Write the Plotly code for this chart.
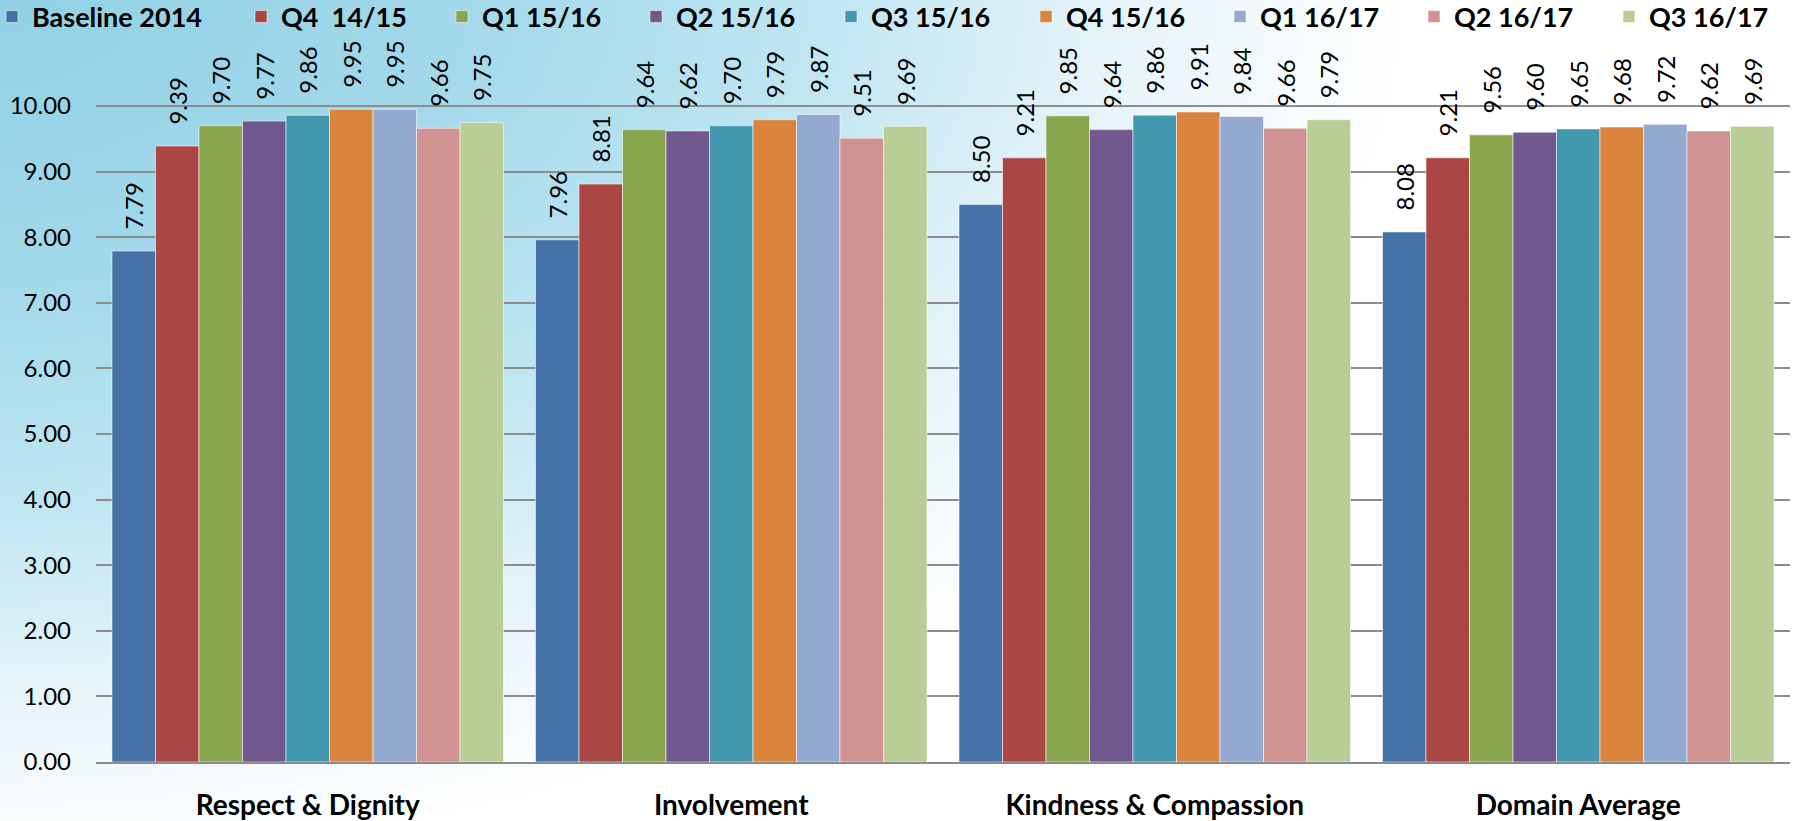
import base64
import plotly.graph_objects as go

# ---------------- data ----------------
categories = ["Respect & Dignity", "Involvement", "Kindness & Compassion", "Domain Average"]
series_names = ["Baseline 2014", "Q4  14/15", "Q1 15/16", "Q2 15/16", "Q3 15/16",
                "Q4 15/16", "Q1 16/17", "Q2 16/17", "Q3 16/17"]
baseline_2014 = [7.79, 7.96, 8.50, 8.08]
q4_1415 = [9.39, 8.81, 9.21, 9.21]
q1_1516 = [9.70, 9.64, 9.85, 9.56]
q2_1516 = [9.77, 9.62, 9.64, 9.60]
q3_1516 = [9.86, 9.70, 9.86, 9.65]
q4_1516 = [9.95, 9.79, 9.91, 9.68]
q1_1617 = [9.95, 9.87, 9.84, 9.72]
q2_1617 = [9.66, 9.51, 9.66, 9.62]
q3_1617 = [9.75, 9.69, 9.79, 9.69]
series_values = [baseline_2014, q4_1415, q1_1516, q2_1516, q3_1516,
                 q4_1516, q1_1617, q2_1617, q3_1617]
y_tick_values = [0, 1, 2, 3, 4, 5, 6, 7, 8, 9, 10]

# ---------------- style ----------------
colors = ["#4572a7", "#aa4643", "#89a54e", "#71588f", "#4198af",
          "#db843d", "#93a9cf", "#d19392", "#b9cd96"]
# left edge (px) of each legend square in the reference
legend_square_px = [19, 268, 469, 663, 858, 1053, 1247, 1441, 1636]

W, H = 1796, 821
L, R, T, B = 96, 6, 50, 59
PW, PH = W - L - R, H - T - B
FONT = "Lato"


def px_to_paper_x(px):
    return (px - L) / PW


def px_to_paper_y(py):
    return 1 - (py - T) / PH


# soft blue background as an inline SVG
svg = f'''<svg xmlns="http://www.w3.org/2000/svg" width="{W}" height="{H}" viewBox="0 0 {W} {H}" preserveAspectRatio="none">
<defs>
<radialGradient id="g" gradientUnits="userSpaceOnUse" cx="0" cy="0" r="1"
 gradientTransform="translate(-40,-30) scale(1450,900)">
<stop offset="0" stop-color="#8fd0e4"/>
<stop offset="0.35" stop-color="#a2d9ea"/>
<stop offset="0.6" stop-color="#c0e6f2"/>
<stop offset="0.8" stop-color="#e6f4fa"/>
<stop offset="1" stop-color="#ffffff"/>
</radialGradient>
</defs>
<rect x="0" y="0" width="{W}" height="{H}" fill="#ffffff"/>
<rect x="0" y="0" width="{W}" height="{H}" fill="url(#g)"/>
</svg>'''
svg_uri = "data:image/svg+xml;base64," + base64.b64encode(svg.encode()).decode()

fig = go.Figure()
for i, (name, vals) in enumerate(zip(series_names, series_values)):
    lg = "legend" if i == 0 else f"legend{i + 1}"
    fig.add_trace(go.Bar(
        x=categories, y=vals, name=name.replace("  ", "\u00a0 "),
        marker=dict(color=colors[i], line=dict(color="rgba(255,255,255,0.55)", width=1)),
        text=[f"\u00a0\u00a0\u00a0{v:.2f}" for v in vals],
        textposition="outside", textangle=-90,
        textfont=dict(family=FONT, size=24, color="#000000"),
        constraintext="none", cliponaxis=False,
        legend=lg,
    ))

legend_layouts = {}
for i, sq in enumerate(legend_square_px):
    lg = "legend" if i == 0 else f"legend{i + 1}"
    legend_layouts[lg] = dict(
        x=px_to_paper_x(sq - 27), xanchor="left",
        y=px_to_paper_y(17), yanchor="middle",
        bgcolor="rgba(0,0,0,0)", borderwidth=0,
        font=dict(family=FONT, size=27, color="#000000", weight="bold"),
        orientation="h",
    )

fig.update_layout(
    width=W, height=H,
    margin=dict(l=L, r=R, t=T, b=B, pad=0, autoexpand=False),
    paper_bgcolor="#ffffff",
    plot_bgcolor="rgba(0,0,0,0)",
    barmode="group", bargap=0.0756, bargroupgap=0,
    showlegend=True,
    images=[dict(source=svg_uri, xref="paper", yref="paper",
                 x=-L / PW, y=1 + T / PH, sizex=W / PW, sizey=H / PH,
                 xanchor="left", yanchor="top", sizing="stretch", layer="below")],
    xaxis=dict(
        showgrid=False, showline=True, linecolor="#8c8c8c", linewidth=2,
        ticks="", ticklabelstandoff=17,
        tickfont=dict(family=FONT, size=28, color="#000000", weight="bold"),
    ),
    yaxis=dict(
        range=[0, PH / 65.6], tickvals=y_tick_values, tickformat=".2f",
        showgrid=True, gridcolor="#8c8c8c", gridwidth=1.5,
        zeroline=False, showline=False, ticks="", ticklabelstandoff=24,
        tickfont=dict(family=FONT, size=24, color="#000000"),
    ),
    **legend_layouts,
)

fig.write_html(
    "out.html",
    config={"displayModeBar": False},
    post_script="document.body.style.margin='0';document.body.style.overflow='hidden';",
)
